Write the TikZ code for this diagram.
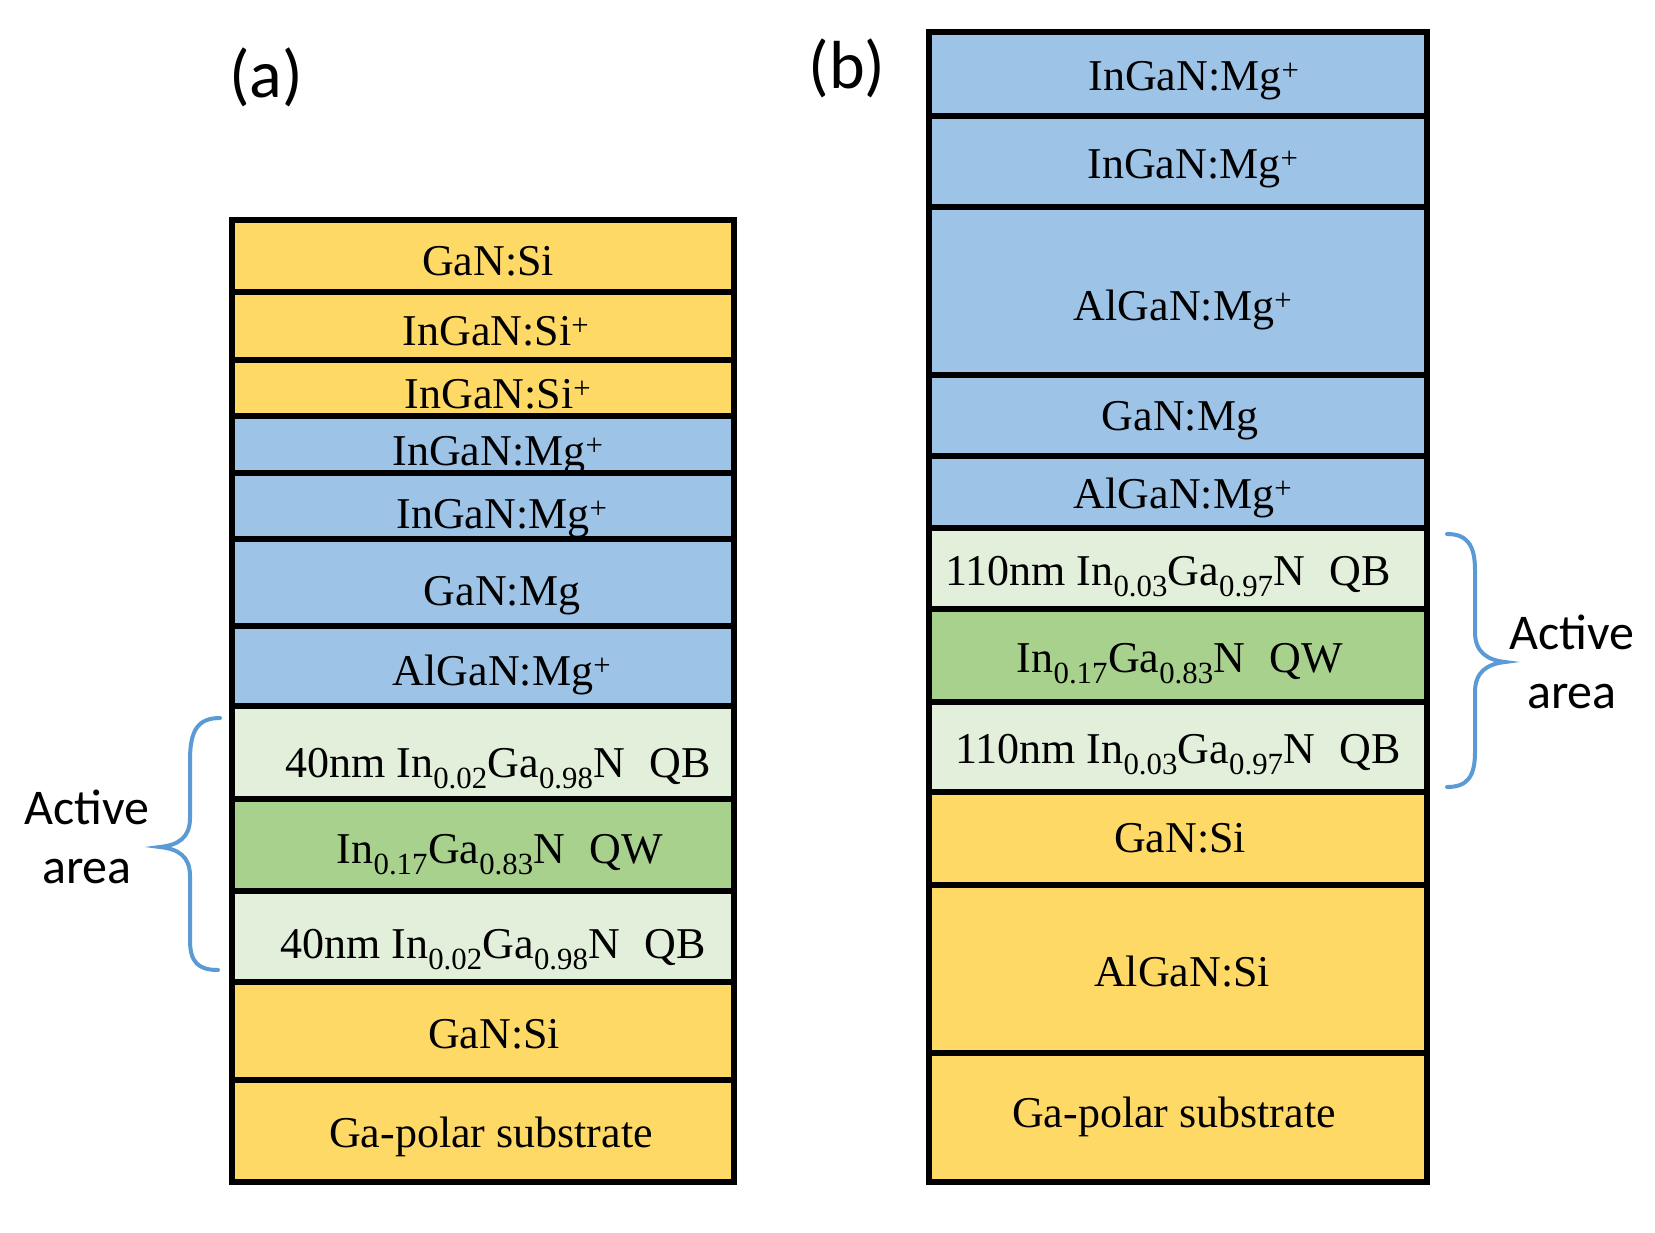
\documentclass[tikz,border=0pt]{standalone}
\usepackage{fontspec}
\setmainfont{Liberation Serif}
\newfontfamily\calib{Carlito}
\definecolor{ylw}{HTML}{FFD966}
\definecolor{blu}{HTML}{9DC3E6}
\definecolor{lgrn}{HTML}{E2EFDA}
\definecolor{grn}{HTML}{A9D18E}
\definecolor{brc}{HTML}{5B9BD5}
\begin{document}
\begin{tikzpicture}[x=1pt,y=-1pt,
  layer/.style={draw=black, line width=5.5pt, inner sep=0pt, outer sep=0pt, anchor=north west},
  lw/.style={layer, minimum width=502pt},
  rw/.style={layer, minimum width=498pt},
  lbl/.style={anchor=base, inner sep=0pt, font=\fontsize{44}{50}\selectfont},
  panel/.style={anchor=base, inner sep=0pt, font=\calib\fontsize{68}{72}\selectfont},
  act/.style={align=center, inner sep=0pt, font=\calib\fontsize{50}{59}\selectfont},
  brace/.style={draw=brc, line width=4pt, line cap=round}]
\useasboundingbox[fill=white] (0,0) rectangle (1655,1232);

% ---------- panel (a) ----------
\node[lw, fill=ylw,  minimum height=72pt]  (a1)  at (232,220)  {};
\node[lw, fill=ylw,  minimum height=68pt]  (a2)  at (232,292)  {};
\node[lw, fill=ylw,  minimum height=56pt]  (a3)  at (232,360)  {};
\node[lw, fill=blu,  minimum height=57pt]  (a4)  at (232,416)  {};
\node[lw, fill=blu,  minimum height=66pt]  (a5)  at (232,473)  {};
\node[lw, fill=blu,  minimum height=87pt]  (a6)  at (232,539)  {};
\node[lw, fill=blu,  minimum height=80pt]  (a7)  at (232,626)  {};
\node[lw, fill=lgrn, minimum height=93pt]  (a8)  at (232,706)  {};
\node[lw, fill=grn,  minimum height=92pt]  (a9)  at (232,799)  {};
\node[lw, fill=lgrn, minimum height=91pt]  (a10) at (232,891)  {};
\node[lw, fill=ylw,  minimum height=98pt]  (a11) at (232,982)  {};
\node[lw, fill=ylw,  minimum height=102pt] (a12) at (232,1080) {};

\node[lbl] (ta1)  at (488,275)  {GaN:Si};
\node[lbl] (ta2)  at (496,345)  {InGaN:Si\textsuperscript{+}};
\node[lbl] (ta3)  at (498,408)  {InGaN:Si\textsuperscript{+}};
\node[lbl] (ta4)  at (498,465)  {InGaN:Mg\textsuperscript{+}};
\node[lbl] (ta5)  at (502,528)  {InGaN:Mg\textsuperscript{+}};
\node[lbl] (ta6)  at (502,605)  {GaN:Mg};
\node[lbl] (ta7)  at (502,685)  {AlGaN:Mg\textsuperscript{+}};
\node[lbl] (ta8)  at (498,777)  {40nm In\textsubscript{0.02}Ga\textsubscript{0.98}N\hspace{0.55em}QB};
\node[lbl] (ta9)  at (500,863)  {In\textsubscript{0.17}Ga\textsubscript{0.83}N\hspace{0.55em}QW};
\node[lbl] (ta10) at (493,958)  {40nm In\textsubscript{0.02}Ga\textsubscript{0.98}N\hspace{0.55em}QB};
\node[lbl] (ta11) at (494,1048) {GaN:Si};
\node[lbl] (ta12) at (491,1147) {Ga-polar substrate};

\node[panel] (pa) at (266,97) {(a)};

\draw[brace] (220,718) .. controls (198,718) and (190,730) .. (190,760) -- (190,818)
  .. controls (190,838) and (178,845) .. (160,847)
  .. controls (178,849) and (190,856) .. (190,876) -- (190,940)
  .. controls (190,962) and (198,970) .. (218,970);
\node[act] (acta) at (87,837) {Active\\area};

% ---------- panel (b) ----------
\node[rw, fill=blu,  minimum height=84pt]  (b1)  at (929,32)   {};
\node[rw, fill=blu,  minimum height=91pt]  (b2)  at (929,116)  {};
\node[rw, fill=blu,  minimum height=168pt] (b3)  at (929,207)  {};
\node[rw, fill=blu,  minimum height=81pt]  (b4)  at (929,375)  {};
\node[rw, fill=blu,  minimum height=72pt]  (b5)  at (929,456)  {};
\node[rw, fill=lgrn, minimum height=81pt]  (b6)  at (929,528)  {};
\node[rw, fill=grn,  minimum height=93pt]  (b7)  at (929,609)  {};
\node[rw, fill=lgrn, minimum height=90pt]  (b8)  at (929,702)  {};
\node[rw, fill=ylw,  minimum height=93pt]  (b9)  at (929,792)  {};
\node[rw, fill=ylw,  minimum height=168pt] (b10) at (929,885)  {};
\node[rw, fill=ylw,  minimum height=129pt] (b11) at (929,1053) {};

\node[lbl] (tb1)  at (1194,90)   {InGaN:Mg\textsuperscript{+}};
\node[lbl] (tb2)  at (1193,178)  {InGaN:Mg\textsuperscript{+}};
\node[lbl] (tb3)  at (1183,320)  {AlGaN:Mg\textsuperscript{+}};
\node[lbl] (tb4)  at (1180,430)  {GaN:Mg};
\node[lbl] (tb5)  at (1183,508)  {AlGaN:Mg\textsuperscript{+}};
\node[lbl] (tb6)  at (1168,585)  {110nm In\textsubscript{0.03}Ga\textsubscript{0.97}N\hspace{0.55em}QB};
\node[lbl] (tb7)  at (1180,672)  {In\textsubscript{0.17}Ga\textsubscript{0.83}N\hspace{0.55em}QW};
\node[lbl] (tb8)  at (1178,763)  {110nm In\textsubscript{0.03}Ga\textsubscript{0.97}N\hspace{0.55em}QB};
\node[lbl] (tb9)  at (1180,852)  {GaN:Si};
\node[lbl] (tb10) at (1182,986)  {AlGaN:Si};
\node[lbl] (tb11) at (1174,1127) {Ga-polar substrate};

\node[panel] (pb) at (847,88) {(b)};

\draw[brace] (1447,534) .. controls (1467,534) and (1475,545) .. (1475,570) -- (1475,632)
  .. controls (1475,652) and (1487,660) .. (1505,662)
  .. controls (1487,664) and (1475,672) .. (1475,692) -- (1475,752)
  .. controls (1475,777) and (1467,787) .. (1447,787);
\node[act] (actb) at (1572,662) {Active\\area};
\end{tikzpicture}
\end{document}
